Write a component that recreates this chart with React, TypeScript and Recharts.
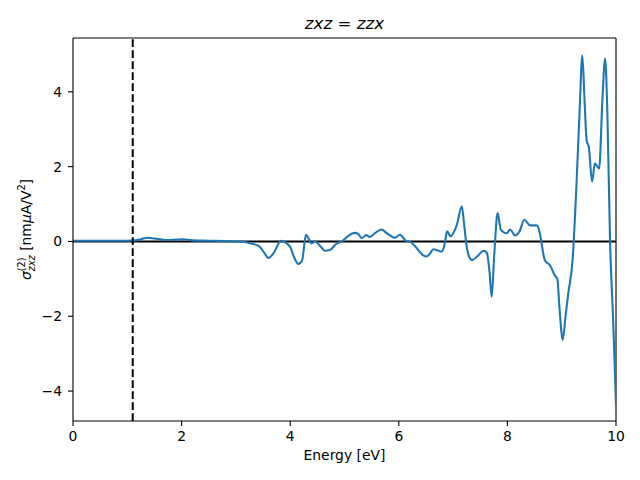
import React from "react";
import { ComposedChart, Line, XAxis, YAxis, ReferenceLine } from "recharts";

const energy = [
  0, 0.5, 1.0, 1.15, 1.25, 1.38, 1.5, 1.73, 1.9, 2.03, 2.2, 2.5, 2.8, 3.08, 3.3, 3.44, 3.52, 3.6, 3.7, 3.83,
  3.93, 4.0, 4.08, 4.15, 4.22, 4.29, 4.34, 4.39, 4.46, 4.55, 4.64, 4.73, 4.86, 4.95, 5.07, 5.19, 5.25, 5.32,
  5.4, 5.47, 5.56, 5.68, 5.78, 5.93, 6.02, 6.14, 6.2, 6.3, 6.45, 6.51, 6.56, 6.64, 6.72, 6.79, 6.84, 6.89,
  6.95, 7.07, 7.16, 7.2, 7.25, 7.3, 7.35, 7.45, 7.56, 7.62, 7.67, 7.71, 7.76, 7.82, 7.88, 7.99, 8.05, 8.14,
  8.23, 8.31, 8.42, 8.54, 8.6, 8.63, 8.69, 8.78, 8.88, 8.92, 8.96, 9.02, 9.07, 9.12, 9.2, 9.27, 9.33, 9.38,
  9.42, 9.46, 9.5, 9.56, 9.61, 9.66, 9.69, 9.75, 9.8, 9.84, 9.89, 9.95, 10.0,
];

const sigma = [
  0.02, 0.02, 0.02, 0.03, 0.06, 0.1, 0.08, 0.04, 0.05, 0.06, 0.03, 0.02, 0.01, 0.0, -0.06, -0.14, -0.3, -0.44,
  -0.3, 0.02, -0.04, -0.15, -0.45, -0.6, -0.5, 0.18, 0.08, -0.05, 0.0, -0.12, -0.25, -0.23, -0.05, 0.0, 0.15,
  0.23, 0.2, 0.09, 0.17, 0.12, 0.22, 0.32, 0.22, 0.1, 0.18, 0.01, 0.0, -0.13, -0.37, -0.4, -0.35, -0.21, -0.24,
  -0.27, -0.1, 0.27, 0.14, 0.45, 0.94, 0.5, -0.14, -0.42, -0.5, -0.39, -0.25, -0.3, -0.8, -1.48, -0.3, 0.76,
  0.31, 0.22, 0.32, 0.16, 0.29, 0.58, 0.43, 0.43, 0.2, -0.06, -0.5, -0.63, -0.92, -1.0, -1.8, -2.63, -2.0,
  -1.4, -0.5, 1.45, 3.5, 4.98, 3.8, 2.7, 2.52, 1.6, 2.08, 2.0, 1.95, 3.8, 4.89, 3.5, 0.03, -2.2, -4.38,
];

const xTicks = [0, 2, 4, 6, 8, 10];
const yTicks = [-4, -2, 0, 2, 4];
const xDomain: [number, number] = [0, 10];
const yDomain: [number, number] = [-4.8, 5.44];
const gapEnergy = 1.1;
const zeroLine = [
  { e: 0, s: 0 },
  { e: 10, s: 0 },
];

const data = energy.map((e, i) => ({ e, s: sigma[i] }));

const FONT = "DejaVu Sans, sans-serif";
const fmt = (v: number) => String(v).replace("-", "\u2212");

export default function App() {
  return (
    <div style={{ position: "absolute", left: 0, top: 0, width: 640, height: 480, background: "#fff" }}>
      <ComposedChart
        width={640}
        height={480}
        data={data}
        margin={{ top: 38, right: 24, bottom: 19, left: 23 }}
      >
        <XAxis
          dataKey="e"
          type="number"
          domain={xDomain}
          ticks={xTicks}
          allowDataOverflow
          height={40}
          tickSize={5}
          tickMargin={5}
          stroke="#000"
          tickFormatter={fmt}
          tick={{ fill: "#000", fontSize: 13.9, fontFamily: FONT }}
          axisLine={{ stroke: "#000", strokeWidth: 1.1 }}
          tickLine={{ stroke: "#000", strokeWidth: 1.1 }}
        />
        <YAxis
          type="number"
          domain={yDomain}
          ticks={yTicks}
          allowDataOverflow
          width={50}
          tickSize={5}
          tickMargin={6}
          stroke="#000"
          tickFormatter={fmt}
          tick={{ fill: "#000", fontSize: 13.9, fontFamily: FONT }}
          axisLine={{ stroke: "#000", strokeWidth: 1.1 }}
          tickLine={{ stroke: "#000", strokeWidth: 1.1 }}
        />
        <ReferenceLine y={yDomain[1]} stroke="#000" strokeWidth={1.1} ifOverflow="visible" />
        <ReferenceLine x={xDomain[1]} stroke="#000" strokeWidth={1.1} ifOverflow="visible" />
        <Line
          data={zeroLine}
          dataKey="s"
          type="linear"
          stroke="#000"
          strokeWidth={2}
          dot={false}
          isAnimationActive={false}
        />
        <Line
          dataKey="s"
          type="monotone"
          stroke="#1f77b4"
          strokeWidth={2.1}
          dot={false}
          isAnimationActive={false}
        />
        <ReferenceLine
          x={gapEnergy}
          stroke="#000"
          strokeWidth={2}
          strokeDasharray="7.7 3.3"
        />
      </ComposedChart>
      <svg
        width={640}
        height={480}
        style={{ position: "absolute", left: 0, top: 0, pointerEvents: "none" }}
      >
        <text x={344.5} y={29} textAnchor="middle" fontFamily={FONT} fontSize={16.7} fill="#000">
          <tspan fontStyle="italic">zxz</tspan>
          <tspan> = </tspan>
          <tspan fontStyle="italic">zzx</tspan>
        </text>
        <text x={344.5} y={460} textAnchor="middle" fontFamily={FONT} fontSize={13.9} fill="#000">
          Energy [eV]
        </text>
        <g transform="translate(31,229.5) rotate(-90)">
          <text x={0} y={0} textAnchor="middle" fontFamily={FONT} fontSize={13.9} fill="#000">
            <tspan fontStyle="italic">σ</tspan>
            <tspan fontSize={9.7} dy={-6}>(2)</tspan>
            <tspan fontSize={9.7} fontStyle="italic" dx={-13.7} dy={10}>zxz</tspan>
            <tspan dy={-4}> [nm</tspan>
            <tspan fontStyle="italic">μ</tspan>
            <tspan>A/V</tspan>
            <tspan fontSize={9.7} dy={-6}>2</tspan>
            <tspan dy={6}>]</tspan>
          </text>
        </g>
      </svg>
    </div>
  );
}
